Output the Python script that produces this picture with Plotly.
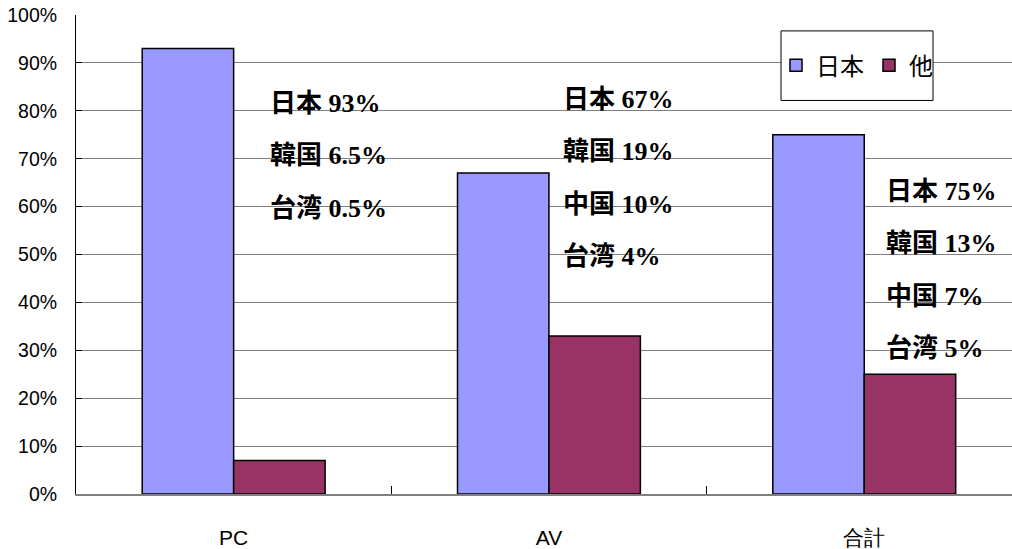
import plotly.graph_objects as go

# Share of production by region, per product group
categories = ["PC", "AV", "合計"]
japan_share = [0.93, 0.67, 0.75]
other_share = [0.07, 0.33, 0.25]

# Breakdown by country/region for each category (percent)
breakdown = {
    "PC": [("日本", "93%"), ("韓国", "6.5%"), ("台湾", "0.5%")],
    "AV": [("日本", "67%"), ("韓国", "19%"), ("中国", "10%"), ("台湾", "4%")],
    "合計": [("日本", "75%"), ("韓国", "13%"), ("中国", "7%"), ("台湾", "5%")],
}

y_ticks = [i / 10 for i in range(11)]
y_tick_labels = [f"{i * 10}%" for i in range(11)]

# Label block placement: x offset from category centre, y of the first line
label_x_offset = {"PC": 0.108, "AV": 0.038, "合計": 0.063}
label_top_y = {"PC": 0.815, "AV": 0.823, "合計": 0.631}
label_line_step = 0.109

W, H = 1012, 549
fig = go.Figure()
fig.add_bar(
    x=categories, y=japan_share, name="日本",
    marker=dict(color="#9999FF", line=dict(color="#000000", width=1.5)),
)
fig.add_bar(
    x=categories, y=other_share, name="他",
    marker=dict(color="#993366", line=dict(color="#000000", width=1.5)),
)

annotations = []
for ci, cat in enumerate(categories):
    for li, (name, pct) in enumerate(breakdown[cat]):
        annotations.append(dict(
            x=ci + label_x_offset[cat], y=label_top_y[cat] - li * label_line_step,
            xref="x", yref="y", xanchor="left", yanchor="middle",
            text=f"<b>{name} {pct}</b>", showarrow=False,
            font=dict(family="Liberation Serif, Noto Sans CJK JP", size=26, color="#000000"),
        ))

# Legend frame (white box over the gridlines)
plot_l, plot_t, plot_b = 76, 15, 497
plot_w = W - plot_l
plot_h = plot_b - plot_t
box = dict(x0=(781 - plot_l) / plot_w, x1=(933 - plot_l) / plot_w,
           y0=(plot_b - 101) / plot_h, y1=(plot_b - 31) / plot_h)

fig.update_layout(
    width=W, height=H,
    margin=dict(l=plot_l, r=0, t=plot_t, b=H - plot_b, pad=0),
    paper_bgcolor="#FFFFFF", plot_bgcolor="#FFFFFF",
    barmode="group", bargap=0.42, bargroupgap=0,
    font=dict(family="Liberation Sans, Arial, sans-serif", size=19, color="#000000"),
    showlegend=True,
    legend=dict(
        orientation="h", x=(box["x0"] + box["x1"]) / 2, y=(box["y0"] + box["y1"]) / 2,
        xanchor="center", yanchor="middle",
        bgcolor="rgba(0,0,0,0)", borderwidth=0,
        font=dict(family="Noto Sans CJK JP", size=24, color="#000000"),
        itemwidth=30, traceorder="normal",
    ),
    shapes=[dict(
        type="rect", xref="paper", yref="paper", layer="above",
        x0=box["x0"], x1=box["x1"], y0=box["y0"], y1=box["y1"],
        fillcolor="#FFFFFF", line=dict(color="#000000", width=1),
    )],
    annotations=annotations,
    xaxis=dict(
        type="category", range=[-0.5, -0.5 + plot_w / 315.3],
        showline=True, linecolor="#808080", linewidth=2,
        ticks="inside", tickson="boundaries", ticklen=8, tickcolor="#000000", tickwidth=1,
        showgrid=False, ticklabelstandoff=24,
        tickfont=dict(family="Liberation Sans, Arial, sans-serif", size=21),
    ),
    yaxis=dict(
        range=[0, 1], tickvals=y_ticks, ticktext=y_tick_labels,
        showline=True, linecolor="#000000", linewidth=1,
        ticks="inside", ticklen=6, tickcolor="#000000",
        showgrid=True, gridcolor="#808080", gridwidth=1,
        zeroline=False, ticklabelstandoff=14,
        tickfont=dict(family="Liberation Sans, Arial, sans-serif", size=19.5),
    ),
)

fig.write_html("out.html")
